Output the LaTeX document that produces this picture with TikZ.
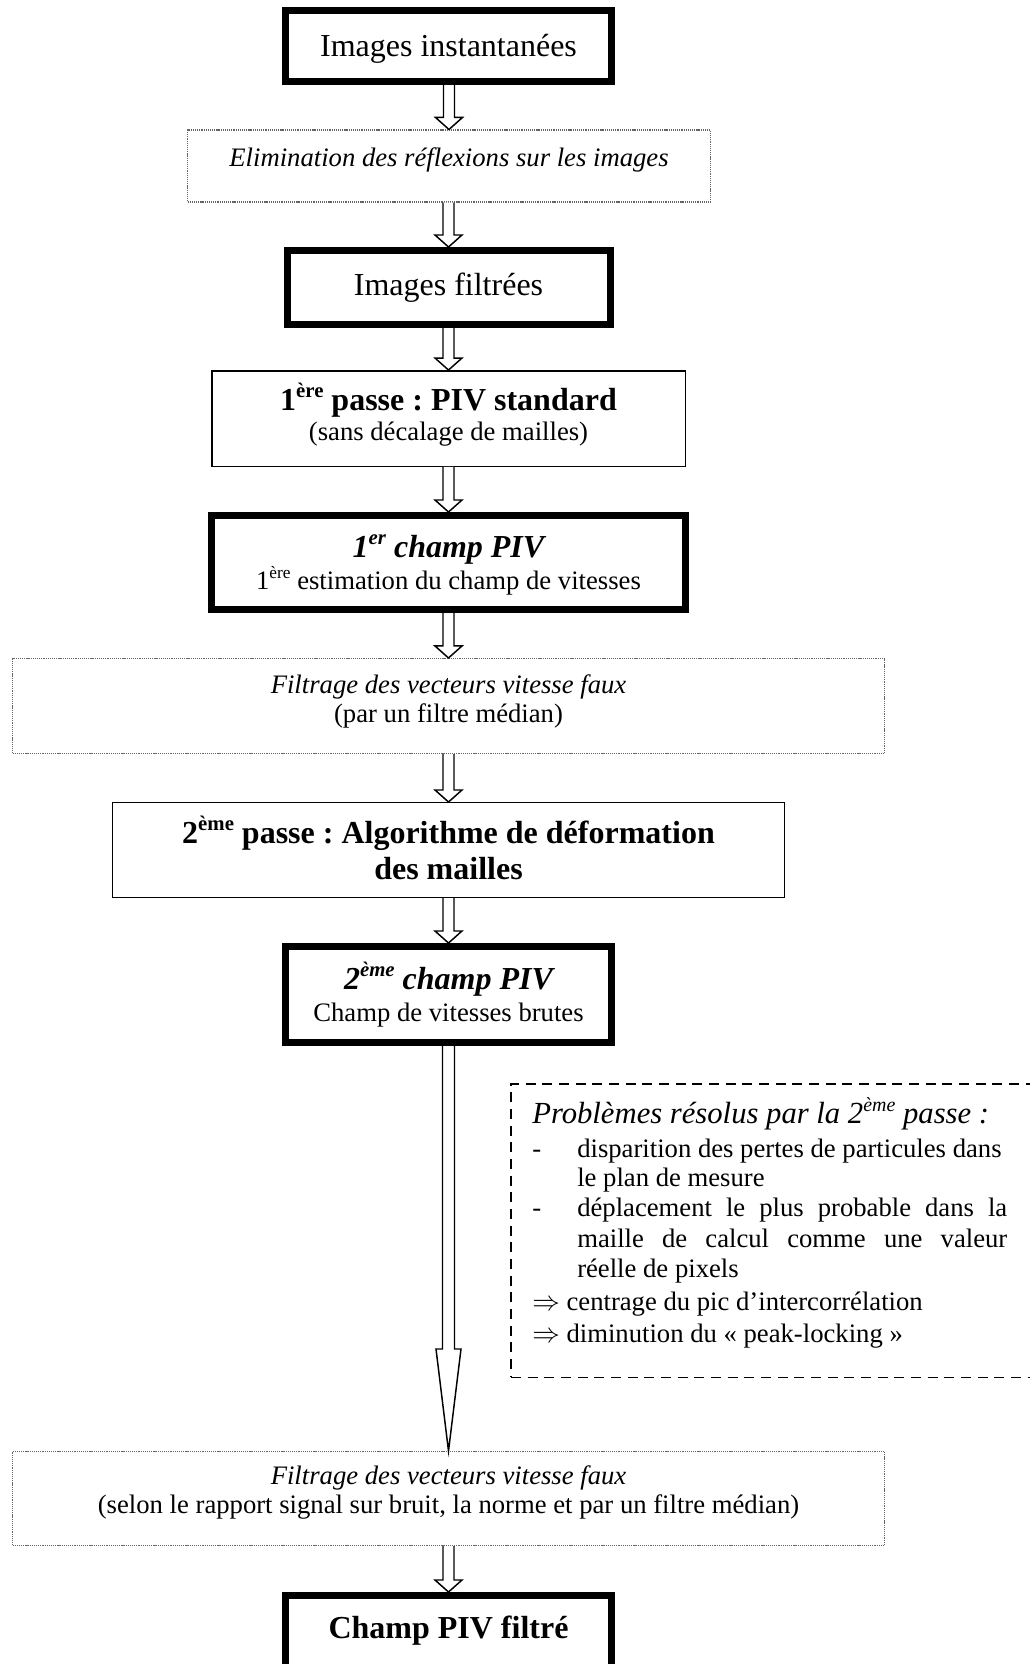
\documentclass[tikz,border=0pt]{standalone}
\usepackage{fontspec}
\setmainfont{Liberation Serif}
\usepackage{graphicx}
\usetikzlibrary{calc}
\frenchspacing
\newcommand\sups[1]{\raisebox{0.38em}{\scalebox{0.65}{#1}}}
% block arrow: #1 from anchor, #2 to anchor, #3 shaft half width, #4 head half width, #5 head length (px)
\newcommand\blockarrow[5]{%
  \filldraw[barrow] ($(#2 |- #1)+(-#3,0)$) -- ($(#2)+(-#3,-#5)$) -- ($(#2)+(-#4,-#5)$) -- (#2)
    -- ($(#2)+(#4,-#5)$) -- ($(#2)+(#3,-#5)$) -- ($(#2 |- #1)+(#3,0)$);}
\tikzset{
  thickbox/.style={draw, line width=5.25pt, inner sep=0pt},
  thinbox/.style={draw, line width=1.1pt, inner sep=0pt},
  dotbox/.style={draw=black!60, line width=0.8pt, dash pattern=on 0.9pt off 0.7pt, inner sep=0pt},
  dashbox/.style={draw, line width=1.1pt, dash pattern=on 7.5pt off 5pt, inner sep=0pt},
  barrow/.style={draw, fill=white, line width=1.1pt, line join=miter},
  big/.style={font=\fontsize{24}{28}\selectfont, inner sep=0pt, anchor=base},
  norm/.style={font=\fontsize{20}{24}\selectfont, inner sep=0pt, anchor=base},
  listl/.style={font=\fontsize{20}{24}\selectfont, inner sep=0pt, anchor=base west},
}
\begin{document}
\begin{tikzpicture}[x=0.75pt, y=-0.75pt]
\useasboundingbox (0,0) rectangle (1030,1664);
\clip (0,0) rectangle (1030,1664);
\fill[white] (0,0) rectangle (1030,1664);

% boxes
\node[thickbox, minimum width=244.5pt, minimum height=53.25pt] (img1) at (448.5,46) {};
\node[dotbox, minimum width=392.25pt, minimum height=54pt] (elim) at (449,166) {};
\node[thickbox, minimum width=242.25pt, minimum height=55.5pt] (img2) at (448.5,287.5) {};
\node[thinbox, minimum width=355.1pt, minimum height=71.6pt] (pass1) at (448.5,418.5) {};
\node[thickbox, minimum width=355.5pt, minimum height=70.5pt] (champ1) at (448.5,562.5) {};
\node[dotbox, minimum width=654pt, minimum height=71.25pt] (filt1) at (448.5,706) {};
\node[thinbox, minimum width=504pt, minimum height=70.9pt] (pass2) at (448.5,850) {};
\node[thickbox, minimum width=244.5pt, minimum height=72pt] (champ2) at (448.5,994.5) {};
\node[dotbox, minimum width=654pt, minimum height=70.5pt] (filt2) at (448.5,1498.5) {};
\node[thickbox, minimum width=244.5pt, minimum height=93.4pt] (final) at (448.5,1657.75) {};
\node[dashbox, minimum width=411.8pt, minimum height=220.1pt] (notes) at (785.4,1230.5) {};

% arrows
\blockarrow{img1.south}{elim.north}{5.5}{13.5}{12}
\blockarrow{elim.south}{img2.north}{5.5}{13.5}{12}
\blockarrow{img2.south}{pass1.north}{5.5}{13.5}{12}
\blockarrow{pass1.south}{champ1.north}{5.5}{13.5}{12}
\blockarrow{champ1.south}{filt1.north}{5.5}{13.5}{12}
\blockarrow{filt1.south}{pass2.north}{5.5}{13.5}{12}
\blockarrow{pass2.south}{champ2.north}{5.5}{13.5}{12}
\blockarrow{champ2.south}{filt2.north}{6}{12.5}{102}
\blockarrow{filt2.south}{final.north}{5.5}{13.5}{12}

% texts
\node[big] (t1) at (448.5,56) {Images instantanées};
\node[norm] (t2) at (449,166) {\itshape Elimination des réflexions sur les images};
\node[big] (t3) at (448.5,295) {Images filtrées};
\node[big] (t4a) at (448.5,410) {\bfseries 1\sups{ère} passe : PIV standard};
\node[norm] (t4b) at (448.5,440) {(sans décalage de mailles)};
\node[big] (t5a) at (448.5,557) {\bfseries\itshape 1\sups{er} champ PIV};
\node[norm] (t5b) at (448.5,589) {1\sups{ère} estimation du champ de vitesses};
\node[norm] (t6a) at (448.5,693) {\itshape Filtrage des vecteurs vitesse faux};
\node[norm] (t6b) at (448.5,722) {(par un filtre médian)};
\node[big] (t7a) at (448.5,843) {\bfseries 2\sups{ème} passe : Algorithme de déformation};
\node[big] (t7b) at (448.5,879) {\bfseries des mailles};
\node[big] (t8a) at (448.5,989) {\bfseries\itshape 2\sups{ème} champ PIV};
\node[norm] (t8b) at (448.5,1021) {Champ de vitesses brutes};
\node[norm] (t9a) at (448.5,1484) {\itshape Filtrage des vecteurs vitesse faux};
\node[norm] (t9b) at (448.5,1513) {(selon le rapport signal sur bruit, la norme et par un filtre médian)};
\node[big] (t10) at (448.5,1638) {\bfseries Champ PIV filtré};

% notes
\node[font=\fontsize{23}{27}\selectfont\itshape, inner sep=0pt, anchor=base west] (n0) at (532,1123) {Problèmes résolus par la 2\sups{ème} passe :};
\node[listl] (d1) at (532,1157) {-};
\node[listl] (n1) at (577,1157) {disparition des pertes de particules dans};
\node[listl] (n2) at (577,1186) {le plan de mesure};
\node[listl] (d2) at (532,1216) {-};
\node[listl] (n3) at (577,1216) {\makebox[322.5pt][s]{déplacement le plus probable dans la}};
\node[listl] (n4) at (577,1247) {\makebox[322.5pt][s]{maille de calcul comme une valeur}};
\node[listl] (n5) at (577,1277) {réelle de pixels};
\node[listl] (n6) at (532,1310) {$\Rightarrow$ centrage du pic d’intercorrélation};
\node[listl] (n7) at (532,1342) {$\Rightarrow$ diminution du « peak-locking »};
\end{tikzpicture}
\end{document}
